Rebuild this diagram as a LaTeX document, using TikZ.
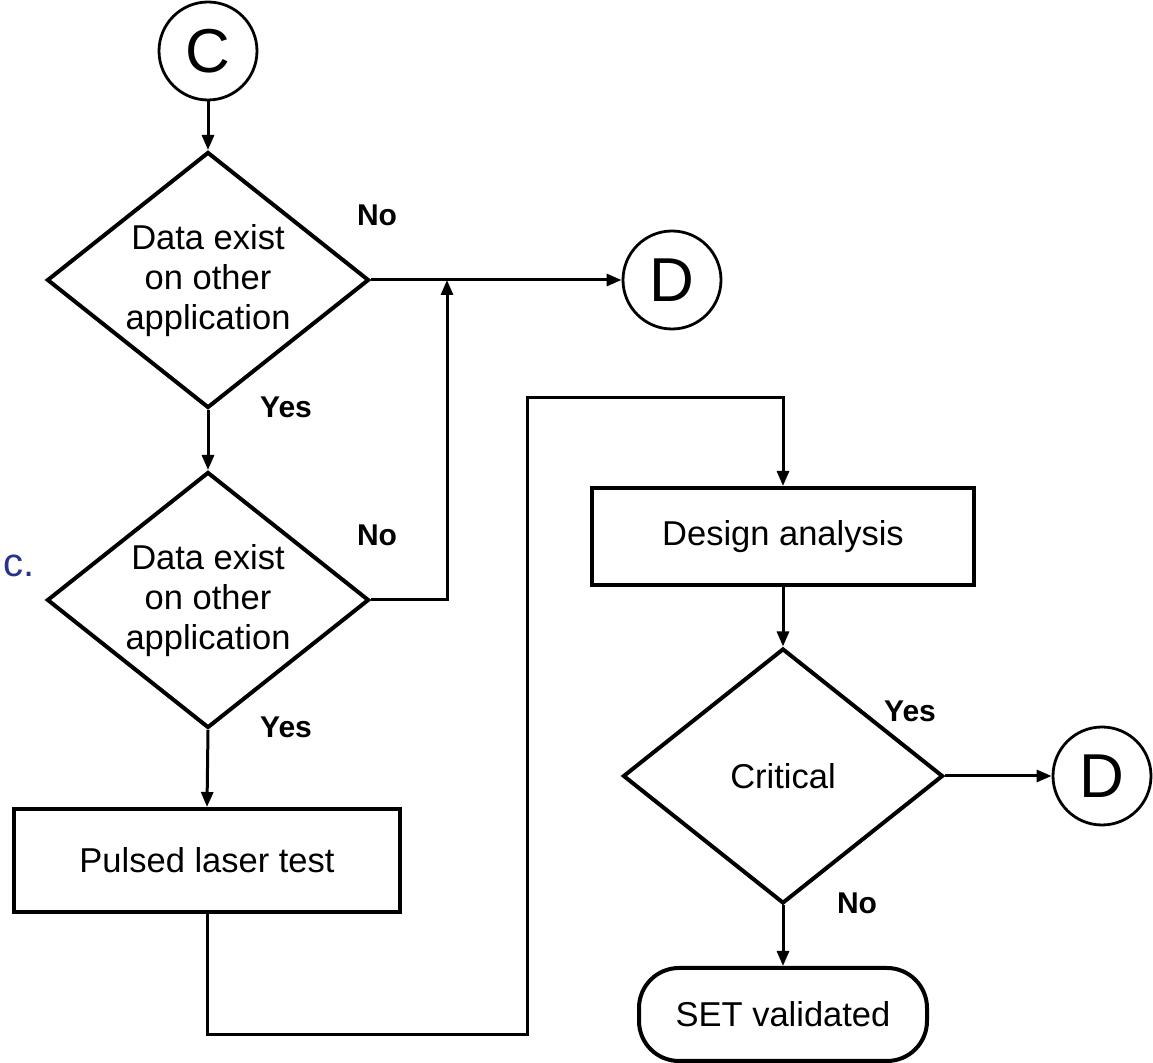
\documentclass[tikz,border=0pt]{standalone}
\usepackage{fontspec}
\setmainfont{Liberation Sans}
\usetikzlibrary{shapes.geometric,arrows.meta}
\definecolor{navy}{RGB}{38,50,140}
\begin{document}
\begin{tikzpicture}[x=0.5pt,y=-0.5pt,
  txt/.style={font=\fontsize{17.25}{20}\selectfont},
  lbl/.style={font=\bfseries\fontsize{15}{18}\selectfont},
  conn/.style={draw,circle,line width=1.4pt,minimum size=49pt,inner sep=0pt,
    font=\fontsize{31}{31}\selectfont},
  proc/.style={draw,rectangle,line width=2pt,inner sep=0pt,txt},
  dec/.style={draw,diamond,line width=2pt,inner sep=0pt,
    minimum width=161pt,minimum height=128pt},
  term/.style={draw,rectangle,rounded corners=20pt,line width=2pt,inner sep=0pt,txt},
  flow/.style={line width=1.5pt,-{Triangle[length=7.5pt,width=6pt]}}]
\useasboundingbox (0,0) rectangle (1153,1063);

% left column
\node[conn] (C) at (208,51) {C};
\node[dec] (d1) at (208,280) {};
\node[txt,align=center] (t1) at (208,281) {Data exist\\on other\\application};
\node[dec] (d2) at (208,600) {};
\node[txt,align=center] (t2) at (208,601) {Data exist\\on other\\application};
\node[proc,minimum width=193pt,minimum height=51.5pt] (plt) at (207,860.5) {Pulsed laser test};
\node[conn] (D1) at (672,280) {D};

% right column
\node[proc,minimum width=191pt,minimum height=48.5pt] (des) at (783,536.5) {Design analysis};
\node[dec,minimum width=160pt,minimum height=127.5pt] (crit) at (783,776) {};
\node[txt] (t3) at (783,776) {Critical};
\node[conn] (D2) at (1102,776) {D};
\node[term,minimum width=144pt,minimum height=46.5pt] (set) at (783,1014.5) {SET validated};

% side text
\node[font=\fontsize{20}{20}\selectfont,text=navy,anchor=base west,inner sep=0pt] (etc) at (3,577) {c.};

% branch labels
\node[lbl] (n1) at (377,215) {No};
\node[lbl] (y1) at (286,407) {Yes};
\node[lbl] (n2) at (377,535) {No};
\node[lbl] (y2) at (286,727) {Yes};
\node[lbl] (y3) at (910,711) {Yes};
\node[lbl] (n3) at (857,903) {No};

% helper points of the routed connectors
\coordinate (j1) at (447,280);
\coordinate (b1) at (207,1035);
\coordinate (b2) at (527,1035);
\coordinate (b3) at (527,398);
\coordinate (b4) at (783,398);

% connectors
\draw[flow] (C.south) -- (d1.north);
\draw[flow] (d1.south) -- (d2.north);
\draw[flow] (d1.east) -- (D1.west);
\draw[flow] (d2.east) -| (j1);
\draw[flow] (d2.south) -- (plt.north);
\draw[flow] (plt.south) -- (b1) -- (b2) -- (b3) -- (b4) -- (des.north);
\draw[flow] (des.south) -- (crit.north);
\draw[flow] (crit.east) -- (D2.west);
\draw[flow] (crit.south) -- (set.north);
\end{tikzpicture}
\end{document}
